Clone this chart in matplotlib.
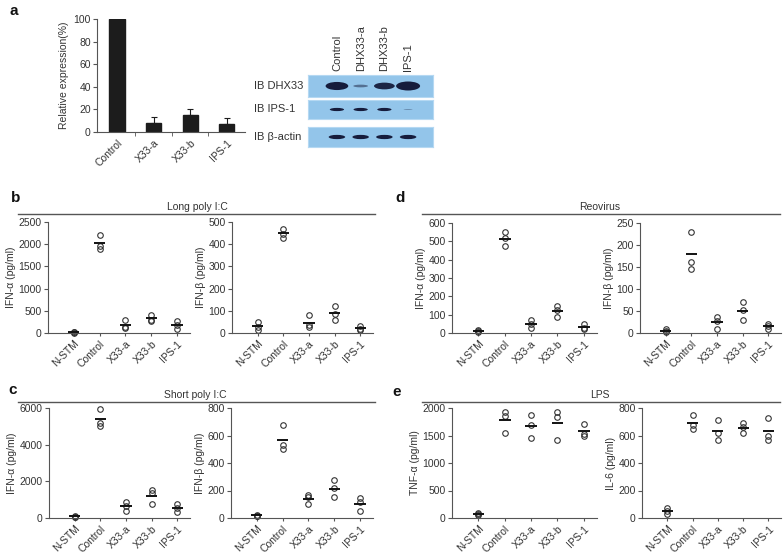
import matplotlib
matplotlib.use("Agg")
import matplotlib.pyplot as plt
from matplotlib.patches import Ellipse
import numpy as np

plt.rcParams['font.family'] = ['Liberation Sans', 'DejaVu Sans']
plt.rcParams['font.size'] = 7.5

W, H = 784, 557
ink = '#333333'
line_col = '#555555'

# a: knockdown efficiency
kd_groups = ['Control', 'X33-a', 'X33-b', 'IPS-1']
kd_expr = [100, 8, 15, 7]
kd_err = [0, 5, 5, 5]

# a: western blot (band strength per lane)
lanes = ['Control', 'DHX33-a', 'DHX33-b', 'IPS-1']
blot_rows = ['IB DHX33', 'IB IPS-1', 'IB β-actin']
band_dhx33 = [0.9, 0.3, 0.75, 1.0]
band_ips1 = [0.8, 0.8, 0.8, 0.2]
band_actin = [0.85, 0.85, 0.85, 0.85]

# b-e: cytokine levels, 3 replicates per group
groups = ['N-STM', 'Control', 'X33-a', 'X33-b', 'IPS-1']
long_ifna = [[30, 20, 10], [2200, 1960, 1900], [290, 130, 110], [410, 290, 280], [260, 170, 100]]
long_ifnb = [[50, 25, 15], [470, 445, 430], [80, 35, 25], [120, 85, 60], [30, 20, 15]]
short_ifna = [[120, 80, 60], [5950, 5200, 5000], [900, 650, 380], [1550, 1350, 750], [750, 550, 350]]
short_ifnb = [[25, 18, 12], [680, 530, 500], [170, 150, 105], [275, 215, 150], [145, 120, 50]]
reo_ifna = [[15, 10, 5], [550, 520, 475], [70, 50, 30], [150, 125, 90], [50, 30, 20]]
reo_ifnb = [[8, 5, 3], [230, 162, 146], [37, 28, 8], [70, 52, 30], [20, 15, 10]]
lps_tnfa = [[90, 70, 50], [1930, 1860, 1550], [1880, 1700, 1460], [1920, 1840, 1420], [1710, 1530, 1500]]
lps_il6 = [[75, 50, 30], [750, 680, 650], [710, 620, 570], [690, 660, 620], [730, 600, 570]]


def px(x0, y0, x1, y1):
    return [x0 / W, 1 - y1 / H, (x1 - x0) / W, (y1 - y0) / H]


def style(ax):
    for s in ['top', 'right']:
        ax.spines[s].set_visible(False)
    for s in ['left', 'bottom']:
        ax.spines[s].set_color(line_col)
        ax.spines[s].set_linewidth(0.8)
    ax.tick_params(colors=line_col, labelcolor=ink, width=0.8, length=3, pad=1.5)


def dots(rect, data, top, step, ylabel):
    ax = fig.add_axes(px(*rect))
    style(ax)
    for i, vals in enumerate(data):
        ax.plot([i] * len(vals), vals, 'o', mfc='none', mec=ink, ms=4, mew=0.8, zorder=2, clip_on=False)
        ax.hlines(np.mean(vals), i - 0.22, i + 0.22, color='#111111', lw=1.4, zorder=3)
    ax.set_xlim(-1, 4.5)
    ax.set_ylim(0, top)
    ax.set_yticks(np.arange(0, top + 1, step))
    ax.set_xticks(range(len(groups)))
    ax.set_xticklabels(groups, rotation=45, ha='right', rotation_mode='anchor')
    ax.tick_params(axis='x', length=2.5)
    ax.set_ylabel(ylabel, color=ink, labelpad=2)
    return ax


fig = plt.figure(figsize=(W / 100, H / 100), dpi=100)

# overlay for panel letters, headers
ov = fig.add_axes([0, 0, 1, 1])
ov.set_xlim(0, W)
ov.set_ylim(H, 0)
ov.axis('off')
for lab, x, y in [('a', 14, 11), ('b', 16, 198), ('c', 13, 390), ('d', 400, 198), ('e', 397, 392)]:
    ov.text(x, y, lab, fontsize=11, fontweight='bold', ha='center', va='center', color='#111111')
for title, x0, x1, y, xc in [('Long poly I:C', 18, 375, 214, 197), ('Reovirus', 422, 780, 214, 600),
                              ('Short poly I:C', 18, 375, 402, 195), ('LPS', 422, 780, 402, 600)]:
    ov.plot([x0, x1], [y, y], color=line_col, lw=1)
    ov.text(xc, y - 2, title, ha='center', va='bottom', color=ink, fontsize=7.5)

# a: bar chart
axa = fig.add_axes(px(97, 19, 245, 132))
style(axa)
axa.bar(range(4), kd_expr, width=0.42, color='#1c1c1c', edgecolor='#1c1c1c',
        yerr=[[0] * 4, kd_err], capsize=2, error_kw=dict(ecolor='#1c1c1c', lw=0.8, capthick=0.8))
axa.set_xlim(-0.55, 3.5)
axa.set_ylim(0, 100)
axa.set_yticks(range(0, 101, 20))
axa.set_xticks(range(4))
axa.set_xticklabels(kd_groups, rotation=45, ha='right', rotation_mode='anchor')
axa.set_xticks([0.5, 1.5, 2.5], minor=True)
axa.tick_params(axis='x', which='major', length=0, pad=4)
axa.tick_params(axis='x', which='minor', length=3, color=line_col)
axa.set_ylabel('Relative expression(%)', color=ink, labelpad=3)

# a: western blot
blot_boxes = [(308, 75, 433, 97), (308, 100, 433, 119), (308, 127, 433, 147)]
bands = [band_dhx33, band_ips1, band_actin]
band_size = [(24, 9), (16, 4), (18, 5)]
for r, (box, vals, (bw, bh)) in enumerate(zip(blot_boxes, bands, band_size)):
    axb = fig.add_axes(px(*box))
    axb.set_facecolor('#93c5ea')
    axb.set_xlim(-1.22, 4.05)
    axb.set_ylim(0, 1)
    axb.set_xticks([])
    axb.set_yticks([])
    for s in axb.spines.values():
        s.set_color('#b5d8f2')
    unit = (box[2] - box[0]) / 5.27
    hpx = box[3] - box[1]
    for i, v in enumerate(vals):
        w = bw * (0.45 + 0.55 * v) / unit
        h = bh * v / hpx
        axb.add_patch(Ellipse((i, 0.5), w, h, color='#161c3c', alpha=min(1, 0.2 + v), lw=0))
    ov.text(254, (box[1] + box[3]) / 2, blot_rows[r], ha='left', va='center',
            color=ink, fontsize=8)
    if r == 0:
        for i, ln in enumerate(lanes):
            axb.text(i, 1.2, ln, transform=axb.get_xaxis_transform(), rotation=90,
                     ha='center', va='bottom', color=ink, fontsize=8)

# b-e
dots((48, 222, 190, 333), long_ifna, 2500, 500, 'IFN-α (pg/ml)')
dots((232, 222, 373, 333), long_ifnb, 500, 100, 'IFN-β (pg/ml)')
dots((452, 223, 597, 333), reo_ifna, 600, 100, 'IFN-α (pg/ml)')
dots((640, 223, 781, 333), reo_ifnb, 250, 50, 'IFN-β (pg/ml)')
dots((49, 408, 190, 518), short_ifna, 6000, 2000, 'IFN-α (pg/ml)')
dots((231, 408, 373, 518), short_ifnb, 800, 200, 'IFN-β (pg/ml)')
dots((452, 408, 597, 518), lps_tnfa, 2000, 500, 'TNF-α (pg/ml)')
dots((642, 408, 781, 518), lps_il6, 800, 200, 'IL-6 (pg/ml)')

fig.savefig('out.png', dpi=100)
